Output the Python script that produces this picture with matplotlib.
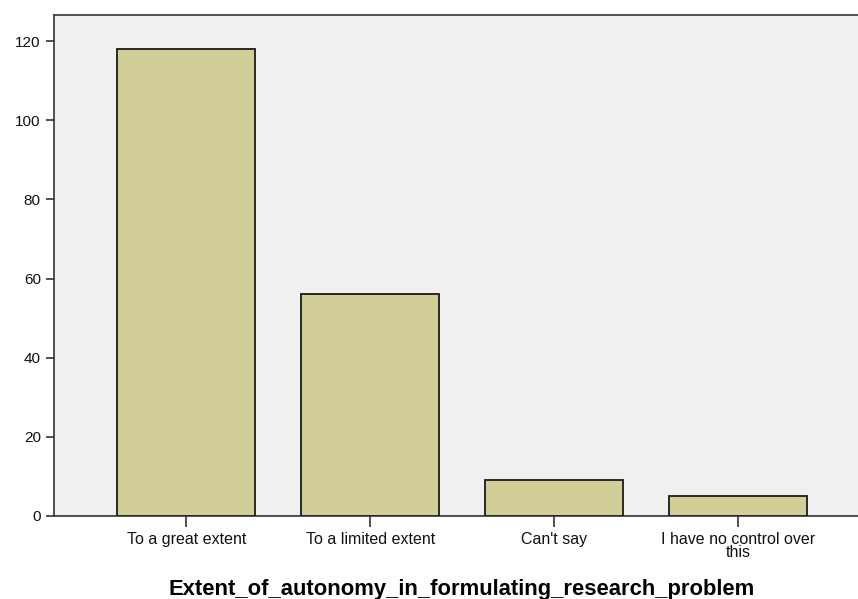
import matplotlib.pyplot as plt

# data
categories = ["To a great extent", "To a limited extent", "Can't say",
              "I have no control over\nthis"]
counts = [118, 56, 9, 5]
y_ticks = [0, 20, 40, 60, 80, 100, 120]

plt.rcParams['font.family'] = ['Liberation Sans', 'DejaVu Sans']

fig = plt.figure(figsize=(8.58, 5.99), dpi=100)
ax = fig.add_axes([0.0629, 0.1386, 0.952, 0.8364])
ax.set_facecolor('#F0F0F0')

x = range(len(categories))
ax.bar(x, counts, width=0.75, color='#D2CE98', edgecolor='#1a1a1a', linewidth=1.3, zorder=3)

ax.set_xlim(-0.72, 3.72)
ax.set_ylim(0, 126.6)
ax.set_yticks(y_ticks)
ax.set_xticks(list(x))
ax.set_xticklabels(categories, linespacing=0.85)
ax.tick_params(axis='both', direction='out', length=6, width=1.2, color='#333333',
               labelsize=11, labelcolor='#111111')
ax.tick_params(axis='x', length=8, labelsize=11.5)

for side in ['left', 'bottom', 'top', 'right']:
    ax.spines[side].set_color('#333333')
    ax.spines[side].set_linewidth(1.2)

ax.set_xlabel("Extent_of_autonomy_in_formulating_research_problem",
              fontsize=15.8, fontweight='bold')
# keep the label centered within the visible figure
ax.xaxis.set_label_coords((462 - 54) / (0.952 * 858), -0.126)

plt.savefig("out.png", dpi=100)
